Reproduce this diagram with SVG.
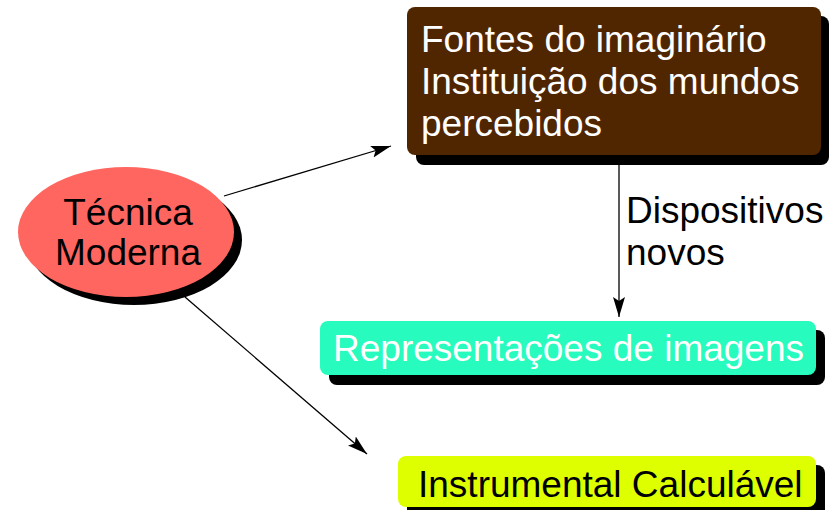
<svg xmlns="http://www.w3.org/2000/svg" width="838" height="510" viewBox="0 0 838 510">
<style>
text{font-family:"Liberation Sans",Arial,sans-serif;font-size:37px}
.w{fill:#ffffff}
.k{fill:#000000}
.sh{fill:#000000}
.c{stroke:#000;stroke-width:1.3;fill:none}
</style>
<defs>
<marker id="ah" markerWidth="22" markerHeight="14" refX="20" refY="7" orient="auto" markerUnits="userSpaceOnUse">
<path d="M0,1 L20,7 L0,13 L4,7 Z" fill="#000"/>
</marker>
</defs>
<g id="connectors">
<line class="c" x1="224" y1="196" x2="391" y2="146" marker-end="url(#ah)"/>
<line class="c" x1="619" y1="164" x2="619" y2="317" marker-end="url(#ah)"/>
<line class="c" x1="185" y1="297" x2="367" y2="454" marker-end="url(#ah)"/>
<text class="k" x="626" y="223">Dispositivos</text>
<text class="k" x="626" y="265">novos</text>
</g>
<g id="tecnica">
<ellipse class="sh" cx="134" cy="240" rx="108" ry="65"/>
<ellipse cx="126" cy="232" rx="108" ry="65" fill="#ff6660"/>
<text class="k" x="128" y="225" text-anchor="middle">Técnica</text>
<text class="k" x="128" y="265" text-anchor="middle">Moderna</text>
</g>
<g id="fontes">
<rect class="sh" x="416" y="16" width="413" height="149" rx="8"/>
<rect x="407" y="7" width="414" height="148" rx="8" fill="#502600"/>
<text class="w" x="421" y="52">Fontes do imaginário</text>
<text class="w" x="421" y="94">Instituição dos mundos</text>
<text class="w" x="421" y="136">percebidos</text>
</g>
<g id="representacoes">
<rect class="sh" x="329" y="330" width="496" height="55" rx="8"/>
<rect x="320" y="321" width="496" height="54" rx="8" fill="#28fbbe"/>
<text class="w" x="333" y="361">Representações de imagens</text>
</g>
<g id="instrumental">
<rect class="sh" x="407" y="465" width="418" height="55" rx="8"/>
<rect x="398" y="456" width="418" height="51" rx="8" fill="#deff00"/>
<text class="k" x="418" y="497">Instrumental Calculável</text>
</g>
</svg>
